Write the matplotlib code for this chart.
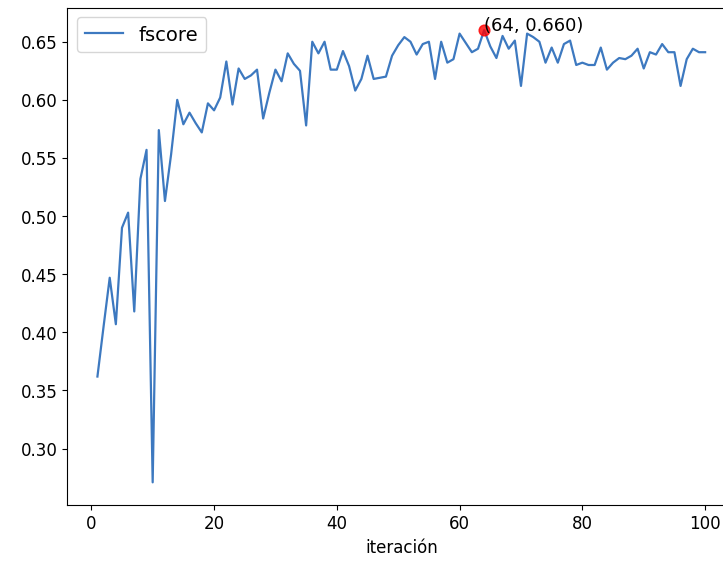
import matplotlib
matplotlib.use("Agg")
import matplotlib.pyplot as plt

iterations = list(range(1, 101))
fscore = [
    0.362, 0.405, 0.447, 0.407, 0.490, 0.503, 0.418, 0.532, 0.557, 0.271,
    0.574, 0.513, 0.553, 0.600, 0.579, 0.589, 0.580, 0.572, 0.597, 0.591,
    0.602, 0.633, 0.596, 0.627, 0.618, 0.621, 0.626, 0.584, 0.606, 0.626,
    0.616, 0.640, 0.631, 0.625, 0.578, 0.650, 0.640, 0.650, 0.626, 0.626,
    0.642, 0.629, 0.608, 0.618, 0.638, 0.618, 0.619, 0.620, 0.638, 0.647,
    0.654, 0.650, 0.639, 0.648, 0.650, 0.618, 0.650, 0.632, 0.635, 0.657,
    0.649, 0.641, 0.644, 0.660, 0.646, 0.636, 0.655, 0.644, 0.651, 0.612,
    0.657, 0.654, 0.650, 0.632, 0.645, 0.632, 0.648, 0.651, 0.630, 0.632,
    0.630, 0.630, 0.645, 0.626, 0.632, 0.636, 0.635, 0.638, 0.644, 0.627,
    0.641, 0.639, 0.648, 0.641, 0.641, 0.612, 0.635, 0.644, 0.641, 0.641,
]
best_iter = 64
best_value = 0.660

fig = plt.figure(figsize=(7.235, 5.625), dpi=100)
ax = fig.add_axes([67 / 723, 57 / 562, (735 - 67) / 723, (505 - 8) / 562])
ax.plot(iterations, fscore, color="#3d79c0", linewidth=1.6, label="fscore")
ax.scatter([best_iter], [best_value], color="red", s=60, alpha=0.8, zorder=3)
ax.text(best_iter, best_value, f"({best_iter}, {best_value:.3f})", fontsize=13)
ax.set_xlabel("iteración", fontsize=12)
ax.tick_params(labelsize=12)
ax.spines["right"].set_visible(False)
ax.legend(loc="upper left", fontsize=14)
fig.savefig("out.png", dpi=100)
